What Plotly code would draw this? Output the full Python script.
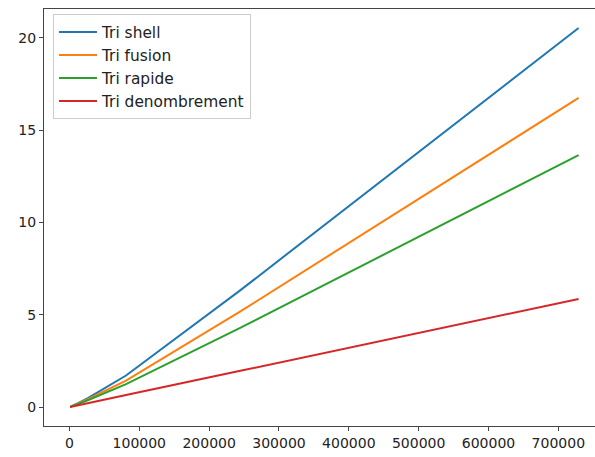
import plotly.graph_objects as go

sizes = [1000, 3000, 9000, 27000, 81000, 243000, 729000]
tri_shell = [0.012, 0.045, 0.15, 0.5, 1.71, 6.28, 20.54]
tri_fusion = [0.012, 0.04, 0.13, 0.44, 1.43, 5.14, 16.75]
tri_rapide = [0.01, 0.035, 0.11, 0.38, 1.24, 4.26, 13.65]
tri_denombrement = [0.007, 0.022, 0.07, 0.21, 0.65, 1.95, 5.86]

names = ["Tri shell", "Tri fusion", "Tri rapide", "Tri denombrement"]
series = [tri_shell, tri_fusion, tri_rapide, tri_denombrement]
colors = ["#1f77b4", "#ff7f0e", "#2ca02c", "#d62728"]

x_ticks = [0, 100000, 200000, 300000, 400000, 500000, 600000, 700000]
y_ticks = [0, 5, 10, 15, 20]

fig = go.Figure()
for i, (n, s, c) in enumerate(zip(names, series, colors)):
    fig.add_trace(go.Scatter(x=sizes, y=s, mode="lines", name=n,
                             line=dict(color=c, width=2), legendgroup=f"g{i}"))

fig.update_layout(
    width=595, height=457,
    margin=dict(l=44, r=0, t=9, b=30.5, pad=0),
    paper_bgcolor="white", plot_bgcolor="white",
    font=dict(family="DejaVu Sans", size=14, color="#222222"),
    showlegend=True,
    legend=dict(x=0.0163, y=0.987, xanchor="left", yanchor="top",
                bgcolor="rgba(255,255,255,0.8)", bordercolor="#cccccc", borderwidth=1,
                font=dict(family="DejaVu Sans", size=15.4, color="#222222"),
                tracegroupgap=0, itemwidth=38),
    xaxis=dict(range=[-36450, 752500], tickvals=x_ticks,
               ticktext=[str(v) for v in x_ticks], automargin=False,
               showgrid=False, zeroline=False, showline=True, linecolor="#444444",
               linewidth=1, mirror=True, ticks="outside", ticklen=4, tickcolor="#444444"),
    yaxis=dict(range=[-1.027, 21.57], tickvals=y_ticks,
               ticktext=[str(v) for v in y_ticks], automargin=False,
               showgrid=False, zeroline=False, showline=True, linecolor="#444444",
               linewidth=1, mirror=False, ticks="outside", ticklen=4, tickcolor="#444444"),
)

fig.write_html("out.html", config={"displayModeBar": False},
               post_script="document.body.style.margin='0';document.body.style.overflow='hidden';")
